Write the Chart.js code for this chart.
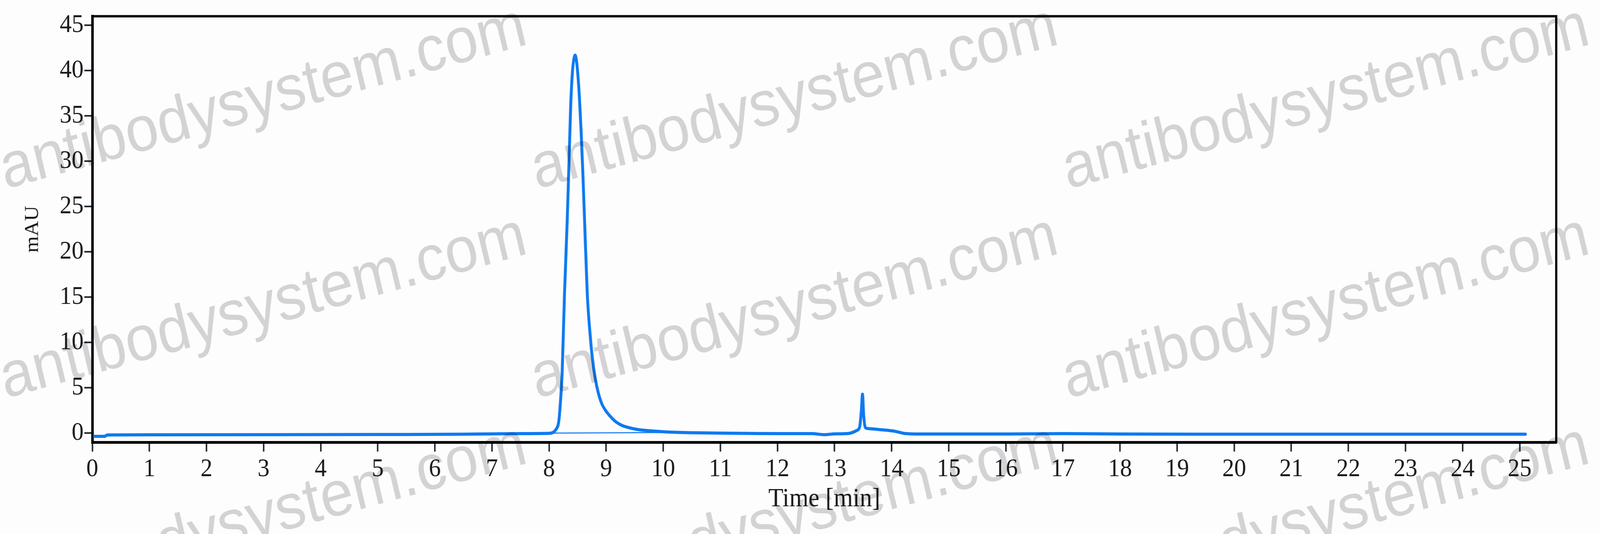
<!DOCTYPE html>
<html><head><meta charset="utf-8">
<script src="https://cdn.jsdelivr.net/npm/chart.js@4"></script>
<style>html,body{margin:0;padding:0;background:#fdfdfd;overflow:hidden;}canvas{display:block;}</style>
</head><body>
<canvas id="c" width="4421" height="1367" style="width:100vw;height:100vh"></canvas>
<script>
// Chromatogram trace (time in min, absorbance in mAU)
const timeMin = [0.00,0.22,0.26,1.0,3.0,5.0,6.5,7.0,7.5,8.0,8.06,8.12,8.17,8.20,8.23,8.27,8.32,8.36,8.38,8.41,8.435,8.457,8.48,8.50,8.53,8.56,8.59,8.62,8.67,8.72,8.76,8.81,8.86,8.92,8.99,9.08,9.16,9.26,9.37,9.55,9.79,10.1,10.5,11.0,11.5,12.0,12.6,12.82,13.0,13.24,13.39,13.44,13.47,13.49,13.51,13.54,13.6,13.81,14.06,14.23,14.5,16.0,17.0,18.0,20.0,25.1];
const absorbanceMAU = [-0.35,-0.35,-0.2,-0.18,-0.17,-0.15,-0.12,-0.08,-0.05,-0.02,0.05,0.4,1.3,3.5,6.8,15.3,23.8,32.2,36.3,39.9,41.3,41.7,41.1,39.9,37.2,33.5,29.0,23.8,15.3,10.8,8.2,6.0,4.5,3.3,2.5,1.8,1.3,0.9,0.65,0.4,0.25,0.12,0.05,0.0,-0.03,-0.05,-0.05,-0.17,-0.08,-0.04,0.3,0.7,2.5,4.3,2.0,0.6,0.5,0.38,0.2,-0.04,-0.1,-0.1,-0.05,-0.1,-0.12,-0.12];
// Integration baseline under the main peak
const baselineTimeMin = [8.06, 10.2];
const baselineMAU = [0.0, 0.08];
// Axis ranges and ticks
const xRange = [0, 25.64];
const yRange = [-1, 46];
const xStep = 1;
const yStep = 5;
const xTitle = 'Time [min]';
const yTitle = 'mAU';
const watermarkText = 'antibodysystem.com';

const traceData = timeMin.map((t, i) => ({x: t, y: absorbanceMAU[i]}));
const baseData = baselineTimeMin.map((t, i) => ({x: t, y: baselineMAU[i]}));
const serif = "'Liberation Serif', 'Times New Roman', serif";

const frame = {
  id: 'frame',
  afterDatasetsDraw(chart) {
    const {ctx, chartArea: a} = chart;
    ctx.save();
    ctx.strokeStyle = '#000';
    ctx.lineWidth = 6;
    ctx.strokeRect(a.left, a.top, a.right - a.left, a.bottom - a.top);
    ctx.restore();
  }
};
const watermark = {
  id: 'watermark',
  afterDraw(chart) {
    const ctx = chart.ctx;
    ctx.save();
    ctx.globalCompositeOperation = 'multiply';
    ctx.fillStyle = 'rgb(212,210,212)';
    ctx.strokeStyle = 'rgb(212,210,212)';
    ctx.lineWidth = 3;
    ctx.lineJoin = 'round';
    ctx.font = "164px 'Liberation Sans', Arial, sans-serif";
    for (let r = 0; r < 3; r++) for (let c = 0; c < 3; c++) {
      ctx.save();
      ctx.translate(15 + c * 1468, 484 + r * 536);
      ctx.rotate(-14.4 * Math.PI / 180);
      ctx.fillText(watermarkText, 0, 0);
      ctx.restore();
    }
    ctx.restore();
  }
};

new Chart(document.getElementById('c'), {
  type: 'line',
  data: {datasets: [
    {data: traceData, borderColor: '#0e7af0', borderWidth: 8, pointRadius: 0, cubicInterpolationMode: 'monotone', borderCapStyle: 'round', borderJoinStyle: 'round', fill: false},
    {data: baseData, borderColor: '#2a86f2', borderWidth: 3, pointRadius: 0, fill: false}
  ]},
  options: {
    responsive: false, devicePixelRatio: 1, animation: false,
    layout: {padding: {left: 0, right: 121, top: 30, bottom: 0}},
    plugins: {legend: {display: false}, tooltip: {enabled: false}},
    scales: {
      x: {type: 'linear', min: xRange[0], max: xRange[1], afterFit(s) { s.height = 235; },
        border: {display: true, color: '#000', width: 7},
        grid: {drawOnChartArea: false, drawTicks: true, tickLength: 24, tickWidth: 4, tickColor: '#14202e'},
        ticks: {stepSize: xStep, includeBounds: false, autoSkip: false, maxRotation: 0, padding: 6, color: '#1a1a1a', font: {family: serif, size: 66}},
        title: {display: true, text: xTitle, color: '#1a1a1a', font: {family: serif, size: 68}, padding: {top: 0, bottom: 48}}},
      y: {type: 'linear', min: yRange[0], max: yRange[1], afterFit(s) { s.width = 255; },
        border: {display: true, color: '#000', width: 7},
        grid: {drawOnChartArea: false, drawTicks: true, tickLength: 22, tickWidth: 4, tickColor: '#14202e'},
        ticks: {stepSize: yStep, includeBounds: false, autoSkip: false, padding: 2, color: '#1a1a1a', font: {family: serif, size: 66}},
        title: {display: true, text: yTitle, color: '#1a1a1a', font: {family: serif, size: 54}, padding: {top: 58, bottom: 0}}}
    }
  },
  plugins: [frame, watermark]
});
</script>
</body></html>
